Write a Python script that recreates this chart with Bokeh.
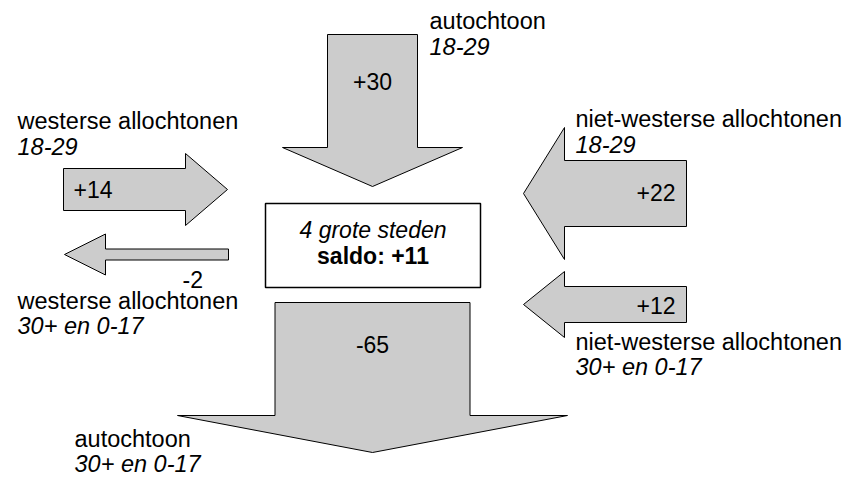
from bokeh.plotting import figure
from bokeh.models import Range1d
from bokeh.core.properties import value
from bokeh.embed import file_html
from bokeh.resources import INLINE

# ---------------- data ----------------
groups = ["autochtoon", "westerse allochtonen", "westerse allochtonen",
          "niet-westerse allochtonen", "niet-westerse allochtonen", "autochtoon"]
ages = ["18-29", "18-29", "30+ en 0-17", "18-29", "30+ en 0-17", "30+ en 0-17"]
values = [30, 14, -2, 22, 12, -65]
centre_name = "4 grote steden"
saldo = sum(values)

# ---------------- layout (page pixel grid, y grows downward) ----------------
tail_x = [372, 63, 228, 686, 686, 372]
tail_y = [34, 189, 254, 193, 304, 302]
dir_x = [0, 1, -1, -1, -1, 0]
dir_y = [1, 0, 0, 0, 0, 1]
shaft_len = [113, 122, 123, 122, 122, 113]
head_len = [39, 42, 41, 41, 41, 37]
PX_PER_UNIT = 3.0
MIN_W = 11

# text anchors: wanted baselines on the page
val_x = [372, 73, 182, 675, 675, 372]
val_y = [89, 197, 287, 200, 313, 352]
val_align = ["center", "left", "left", "right", "right", "center"]
lab_x = [429, 17, 17, 575, 575, 74]
lab_y = [28, 128, 308, 126, 349, 446]
LINE_GAP = 25.5
box_l, box_r, box_t, box_b = 265, 480, 203, 287
box_text_y = [237, 263]
TEXT_DY = -8          # the svg text baseline lands ~8px low; compensate

FONT = value("Liberation Sans")
FS_LAB = value("23.5px")
FS = value("23px")
FILL = "#cccccc"
W, H = 848, 477


def arrow_poly(tx, ty, dx, dy, slen, hlen, w, hw):
    px, py = -dy, dx
    ex, ey = tx + dx * slen, ty + dy * slen
    kx, ky = tx + dx * (slen + hlen), ty + dy * (slen + hlen)
    pts = [
        (tx + px * w / 2, ty + py * w / 2),
        (ex + px * w / 2, ey + py * w / 2),
        (ex + px * hw / 2, ey + py * hw / 2),
        (kx, ky),
        (ex - px * hw / 2, ey - py * hw / 2),
        (ex - px * w / 2, ey - py * w / 2),
        (tx - px * w / 2, ty - py * w / 2),
    ]
    return [q[0] for q in pts], [q[1] for q in pts]


xs, ys = [], []
for i, v in enumerate(values):
    w = max(abs(v) * PX_PER_UNIT, MIN_W)
    hw = 2 * w if w >= 60 else w + 30
    ax, ay = arrow_poly(tail_x[i], tail_y[i], dir_x[i], dir_y[i],
                        shaft_len[i], head_len[i], w, hw)
    xs.append(ax)
    ys.append(ay)

# one data unit = one page pixel
p = figure(width=W, height=H, x_range=Range1d(0, W), y_range=Range1d(H, 0),
           output_backend="svg", toolbar_location=None,
           x_axis_type=None, y_axis_type=None, min_border=0,
           outline_line_color=None, background_fill_color="white",
           border_fill_color="white")
p.title.visible = False

p.patches(xs, ys, fill_color=FILL, line_color="black", line_width=1)

# centre box
p.quad(left=[box_l], right=[box_r], top=[box_t], bottom=[box_b],
       fill_color="white", line_color="black", line_width=1.5)
cx = (box_l + box_r) / 2
p.text(x=[cx], y=[box_text_y[0] + TEXT_DY], text=[centre_name], text_font=FONT,
       text_font_size=FS, text_font_style="italic", text_align="center",
       text_baseline="alphabetic", text_color="black")
p.text(x=[cx], y=[box_text_y[1] + TEXT_DY], text=[f"saldo: {saldo:+d}"], text_font=FONT,
       text_font_size=FS, text_font_style="bold", text_align="center",
       text_baseline="alphabetic", text_color="black")

# value labels
for align in ("left", "center", "right"):
    idx = [i for i, a in enumerate(val_align) if a == align]
    if not idx:
        continue
    p.text(x=[val_x[i] for i in idx], y=[val_y[i] + TEXT_DY for i in idx],
           text=[f"{values[i]:+d}" for i in idx],
           text_font=FONT, text_font_size=FS, text_align=align,
           text_baseline="alphabetic", text_color="black")

# group labels
p.text(x=lab_x, y=[y + TEXT_DY for y in lab_y], text=groups, text_font=FONT,
       text_font_size=FS_LAB, text_align="left", text_baseline="alphabetic",
       text_color="black")
p.text(x=lab_x, y=[y + LINE_GAP + TEXT_DY for y in lab_y], text=ages, text_font=FONT,
       text_font_size=FS_LAB, text_font_style="italic", text_align="left",
       text_baseline="alphabetic", text_color="black")

open("out.html", "w").write(file_html(p, INLINE))
